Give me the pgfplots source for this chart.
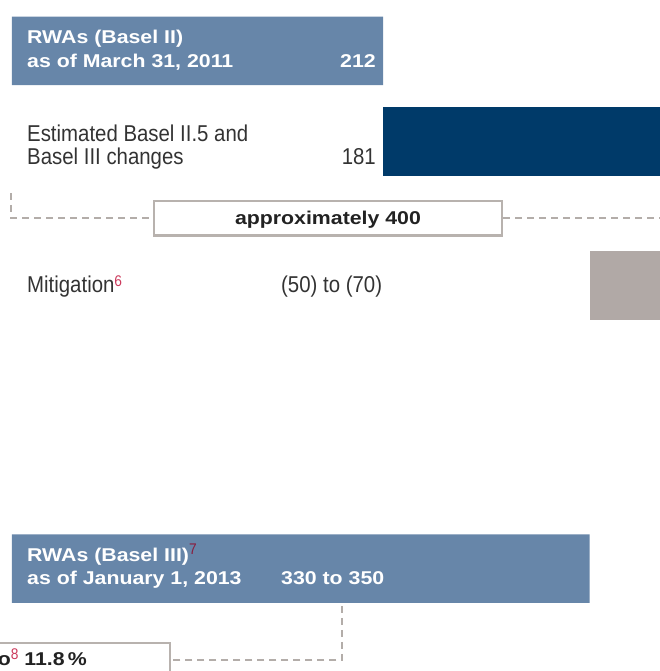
\documentclass[border=0pt]{standalone}
\usepackage{pgfplots}
\pgfplotsset{compat=1.18}
\usepackage{pgfplotstable}
\usepackage{fontspec}
\setmainfont{Liberation Sans}
\newfontfamily\labelfont[FakeStretch=0.89]{Liberation Sans}
\newfontfamily\headfont[FakeStretch=1.15]{Liberation Sans}

\definecolor{rwablue}{HTML}{6786A9}
\definecolor{navy}{HTML}{003A69}
\definecolor{mitgray}{HTML}{B1A9A6}
\definecolor{boxgray}{HTML}{B8B2AE}
\definecolor{dashgray}{HTML}{B3ADA9}
\definecolor{txt}{HTML}{333333}
\definecolor{dark}{HTML}{222222}
\definecolor{fnred}{HTML}{CC3A5C}
\definecolor{fndark}{HTML}{8A1D3F}

\newcommand\reg{\labelfont\fontsize{23}{24}\selectfont}
\newcommand\hd{\headfont\bfseries\fontsize{18.6}{24}\selectfont}
\newcommand\fn[2]{\raisebox{6.5bp}{\labelfont\mdseries\fontsize{15.5}{15.5}\selectfont\color{#1}#2}}

% RWA bridge (CHF bn): invisible offset plus the visible segment of each row
\pgfplotstableread{
y      base  rwa  change  mitig
51     0     212  0       0
141.5  212   0    181     0
285.5  330   0    0       63
568.5  0     330  0       0
}\bridge

\begin{document}
\begin{tikzpicture}
\useasboundingbox (0,0) rectangle (660bp,671bp);
\clip (0,0) rectangle (660bp,671bp);
\begin{axis}[
  at={(0,0)}, anchor=south west,
  scale only axis, width=660bp, height=671bp,
  xmin=-6.857, xmax=370.286,
  ymin=0, ymax=671, y dir=reverse,
  hide axis, clip=true,
  xbar stacked, bar width=68.5,
]
\addplot[draw=none, fill=none, forget plot] table[x=base, y=y] {\bridge};
\addplot[draw=none, fill=rwablue] table[x=rwa, y=y] {\bridge};
\addplot[draw=none, fill=navy] table[x=change, y=y] {\bridge};
\addplot[draw=none, fill=mitgray] table[x=mitig, y=y] {\bridge};
\end{axis}

\begin{scope}[shift={(0,671bp)}, x=1bp, y=-1bp]
  % Basel II row
  \node[anchor=base west, inner sep=0, text=white] at (27,44) {\hd RWAs (Basel II)};
  \node[anchor=base west, inner sep=0, text=white] at (27,68) {\hd as of March 31, 2011};
  \node[anchor=base east, inner sep=0, text=white] at (376,68) {\hd 212};
  % changes row
  \node[anchor=base west, inner sep=0, text=txt] at (27,141.5) {\reg Estimated Basel II.5 and};
  \node[anchor=base west, inner sep=0, text=txt] at (27,165) {\reg Basel III changes};
  \node[anchor=base east, inner sep=0, text=txt] at (376,165) {\reg 181};
  % subtotal
  \draw[dashgray, line width=2bp, dash pattern=on 7bp off 5bp] (11,193) -- (11,218) -- (153,218);
  \draw[dashgray, line width=2bp, dash pattern=on 7bp off 5bp] (503,218) -- (665,218);
  \draw[boxgray, line width=2.5bp, fill=white] (154,201) rectangle (502,235.5);
  \node[anchor=base, inner sep=0, text=dark] at (328,224.5) {\hd approximately 400};
  % mitigation row
  \node[anchor=base west, inner sep=0, text=txt] at (27,293) {\reg Mitigation\fn{fnred}{6}};
  \node[anchor=base west, inner sep=0, text=txt] at (281,293) {\reg (50) to (70)};
  % Basel III row
  \node[anchor=base west, inner sep=0, text=white] at (27,561.5) {\hd RWAs (Basel III)\fn{fndark}{7}};
  \node[anchor=base west, inner sep=0, text=white] at (27,585) {\hd as of January 1, 2013};
  \node[anchor=base west, inner sep=0, text=white] at (281,585) {\hd 330 to 350};
  % capital ratio
  \draw[dashgray, line width=2bp, dash pattern=on 7bp off 5bp] (342,606) -- (342,660.5) -- (172,660.5);
  \draw[boxgray, line width=2.5bp, fill=white] (-60,643) rectangle (170,700);
  \node[anchor=base east, inner sep=0, text=dark] at (87,666) {\hd Tier 1 capital ratio\fn{fnred}{8} 11.8\,\%};
\end{scope}
\end{tikzpicture}
\end{document}
